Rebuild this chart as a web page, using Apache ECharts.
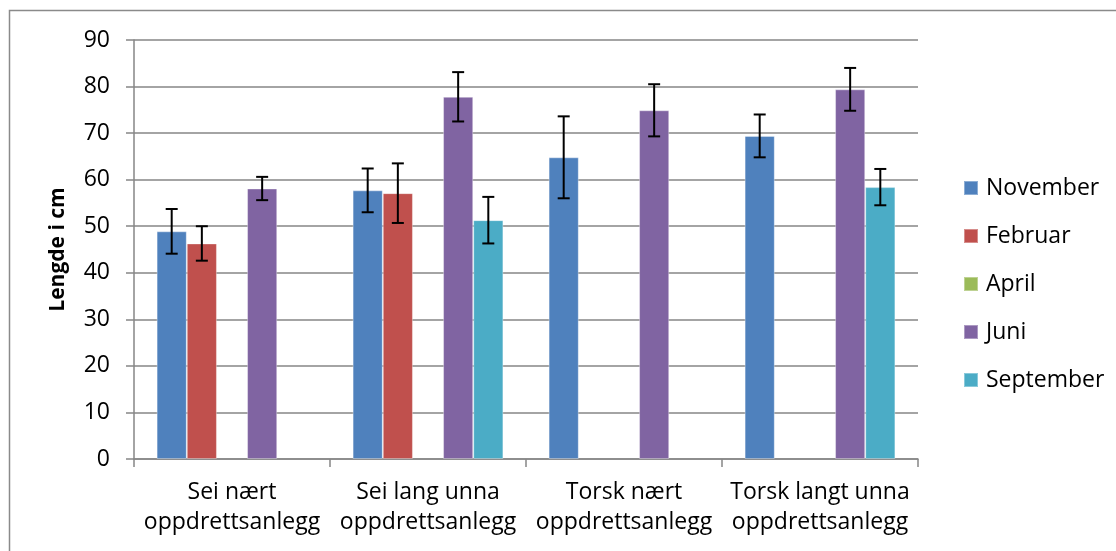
<!DOCTYPE html>
<html><head><meta charset="utf-8">
<script src="https://cdn.jsdelivr.net/npm/echarts@6/dist/echarts.min.js"></script>
<style>html,body{margin:0;padding:0;background:#fff}#c{width:1116px;height:551px}</style>
</head><body><div id="c"></div>
<script>
const categories = ['Sei nært\noppdrettsanlegg', 'Sei lang unna\noppdrettsanlegg', 'Torsk nært\noppdrettsanlegg', 'Torsk langt unna\noppdrettsanlegg'];
const seriesNames = ['November', 'Februar', 'April', 'Juni', 'September'];
const november = [48.9, 57.7, 64.8, 69.4];
const februar = [46.3, 57.1, null, null];
const april = [null, null, null, null];
const juni = [58.1, 77.8, 74.9, 79.4];
const september = [null, 51.3, null, 58.4];
const novemberErr = [4.8, 4.7, 8.8, 4.6];
const februarErr = [3.7, 6.4, null, null];
const aprilErr = [null, null, null, null];
const juniErr = [2.5, 5.3, 5.6, 4.6];
const septemberErr = [null, 5.0, null, 3.9];
const yTicks = [0, 10, 20, 30, 40, 50, 60, 70, 80, 90];

const colors = ['#4F81BD', '#C0504D', '#9BBB59', '#8064A2', '#4BACC6'];
const values = [november, februar, april, juni, september];
const errs = [novemberErr, februarErr, aprilErr, juniErr, septemberErr];
const FONT = 'Open Sans';
const nS = seriesNames.length;
const gapFrac = 1.5 / (nS + 1.5);

const series = seriesNames.map((name, i) => ({
  name, type: 'bar', data: values[i], barGap: 0,
  barCategoryGap: (gapFrac * 100).toFixed(2) + '%',
  itemStyle: { color: colors[i], borderColor: 'rgba(255,255,255,0.35)', borderWidth: 1 },
  emphasis: { disabled: true }
}));

const errData = [];
values.forEach((vals, si) => vals.forEach((v, ci) => {
  if (v != null && errs[si][ci] != null) errData.push([ci, v, errs[si][ci], si]);
}));

series.push({
  type: 'custom', name: 'err', silent: true, z: 10,
  data: errData,
  encode: { x: 0, y: 1 },
  renderItem: function (params, api) {
    const ci = api.value(0), v = api.value(1), e = api.value(2), si = api.value(3);
    const band = api.size([1, 0])[0];
    const bw = band * (1 - gapFrac) / nS;
    const c = api.coord([ci, v]);
    const x = c[0] + (si - (nS - 1) / 2) * bw;
    const yTop = api.coord([ci, v + e])[1];
    const yBot = api.coord([ci, v - e])[1];
    const cap = 6;
    const st = { stroke: '#000', lineWidth: 2 };
    return { type: 'group', children: [
      { type: 'line', shape: { x1: x, y1: yTop, x2: x, y2: yBot }, style: st },
      { type: 'line', shape: { x1: x - cap, y1: yTop, x2: x + cap, y2: yTop }, style: st },
      { type: 'line', shape: { x1: x - cap, y1: yBot, x2: x + cap, y2: yBot }, style: st }
    ]};
  }
});

const chart = echarts.init(document.getElementById('c'));
chart.setOption({
  animation: false,
  backgroundColor: '#fff',
  graphic: [{ type: 'rect', shape: { x: 9.5, y: 10.5, width: 1120, height: 570 },
    style: { fill: 'none', stroke: '#8a8a8a', lineWidth: 1.5 }, silent: true }],
  grid: { left: 134, right: 198, top: 40, bottom: 92 },
  legend: {
    orient: 'vertical', left: 963, top: 176, itemGap: 24, padding: 0,
    itemWidth: 14, itemHeight: 14, icon: 'rect',
    data: seriesNames,
    textStyle: { fontFamily: FONT, fontSize: 23, lineHeight: 24, color: '#000', padding: [0, 0, 0, 3] }
  },
  xAxis: {
    type: 'category', data: categories,
    axisLine: { lineStyle: { color: '#868686', width: 1.5 } },
    axisTick: { show: true, length: 8, alignWithLabel: false, lineStyle: { color: '#868686', width: 1.5 } },
    axisLabel: { fontFamily: FONT, fontSize: 23, color: '#000', lineHeight: 30, margin: 18, interval: 0 }
  },
  yAxis: {
    type: 'value', min: 0, max: 90, interval: 10,
    name: 'Lengde i cm', nameLocation: 'middle', nameGap: 65, nameRotate: 90,
    nameTextStyle: { fontFamily: FONT, fontSize: 21, fontWeight: 'bold', color: '#000' },
    axisLine: { show: true, lineStyle: { color: '#868686', width: 1.5 } },
    axisTick: { show: true, length: 8, lineStyle: { color: '#868686', width: 1.5 } },
    axisLabel: { fontFamily: FONT, fontSize: 23, color: '#000', margin: 24,
      formatter: v => yTicks.includes(v) ? String(v) : '' },
    splitLine: { lineStyle: { color: '#868686', width: 1.5 } }
  },
  series
});
</script></body></html>
